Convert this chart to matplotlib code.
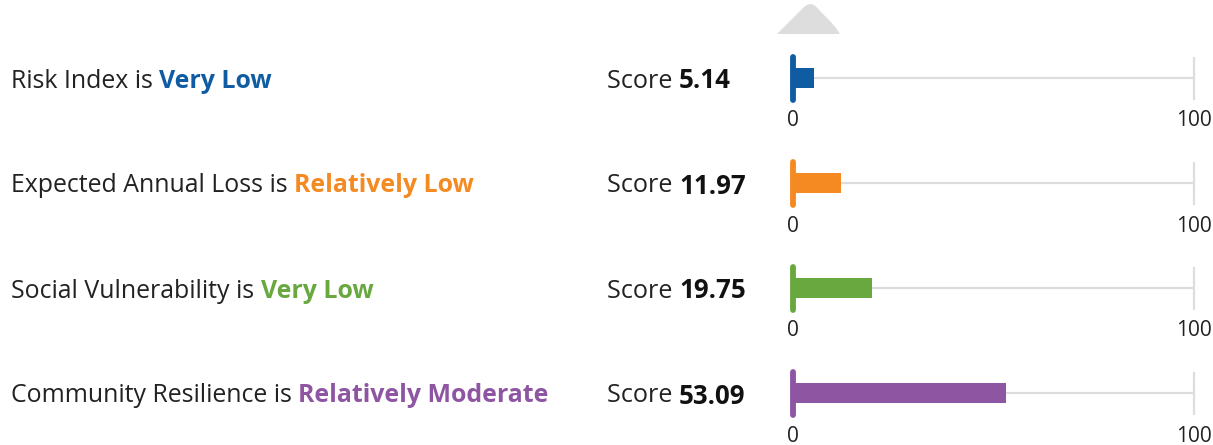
import matplotlib
matplotlib.use("Agg")
import matplotlib.pyplot as plt
from matplotlib.patches import Polygon

W, H = 1213, 445
categories = ["Risk Index", "Expected Annual Loss", "Social Vulnerability", "Community Resilience"]
ratings = ["Very Low", "Relatively Low", "Very Low", "Relatively Moderate"]
scores = [5.14, 11.97, 19.75, 53.09]
colors = ["#0f5ca3", "#f58a22", "#68a83f", "#8e55a3"]
axis_min, axis_max = 0, 100

row_y = [78, 183, 288, 393]
x0_px, x1_px = 793, 1194
FONT = "Open Sans"
TXT = "#222222"

fig = plt.figure(figsize=(W / 100, H / 100), dpi=100)
fig.patch.set_facecolor("white")

def fx(x):
    return x / W

def fy(y):
    return 1 - y / H

# decorative grey triangle at top (partially cropped element)
pts = [(777, 34), (801, 10), (805, 6), (808, 4.5), (811, 4), (814, 5),
       (817, 7.5), (821, 12), (830, 21), (836, 28), (840, 34)]
fig.patches.append(Polygon([(fx(x), fy(y)) for x, y in pts], closed=True,
                           transform=fig.transFigure, facecolor="#dddddd",
                           edgecolor="none"))

renderer = fig.canvas.get_renderer()

for i, (cat, rat, sc, col) in enumerate(zip(categories, ratings, scores, colors)):
    yc = row_y[i]
    # left label
    t1 = fig.text(fx(11), fy(yc), f"{cat} is ", fontsize=17.9, family=FONT,
                  color=TXT, va="center_baseline", ha="left")
    bb = t1.get_window_extent(renderer)
    fig.text(bb.x1 / W, fy(yc), rat, fontsize=17.9, family=FONT, weight="bold",
             color=col, va="center_baseline", ha="left")
    # score
    t2 = fig.text(fx(607), fy(yc), "Score ", fontsize=18.2, family=FONT,
                  color=TXT, va="center_baseline", ha="left")
    bb = t2.get_window_extent(renderer)
    fig.text(bb.x1 / W, fy(yc), f"{sc:.2f}", fontsize=18.6, family=FONT,
             weight="bold", color="#111111", va="center_baseline", ha="left")

    # bar axis
    ax = fig.add_axes([fx(x0_px), fy(yc + 25), (x1_px - x0_px) / W, 50 / H])
    ax.set_xlim(axis_min, axis_max)
    ax.set_ylim(25, -25)
    ax.axis("off")
    ax.plot([axis_min, axis_max], [0, 0], color="#dddddd", lw=1.6,
            solid_capstyle="butt", clip_on=False, zorder=1)
    ax.plot([axis_max, axis_max], [-20, 21], color="#dddddd", lw=1.6,
            clip_on=False, zorder=1)
    ax.barh([0], [sc], left=axis_min, height=20, color=col, zorder=2)
    ax.plot([axis_min, axis_min], [-21, 22], color=col, lw=4.2,
            solid_capstyle="round", clip_on=False, zorder=3)
    # tick labels
    fig.text(fx(x0_px), fy(yc + 43), f"{axis_min}", fontsize=15, family=FONT,
             color=TXT, ha="center", va="center")
    fig.text(fx(x1_px), fy(yc + 43), f"{axis_max}", fontsize=15, family=FONT,
             color=TXT, ha="center", va="center")

fig.savefig("out.png", dpi=100, facecolor="white")
